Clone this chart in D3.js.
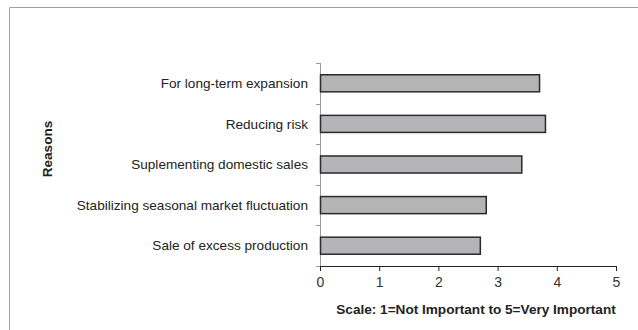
<!DOCTYPE html>
<html><head><meta charset="utf-8">
<script src="https://cdn.jsdelivr.net/npm/d3@7"></script>
<style>body{margin:0;background:#fff}svg{display:block}text{font-family:"Liberation Sans",Arial,sans-serif}</style>
</head><body><svg id="c" width="638" height="330"></svg>
<script>
const categories = ["For long-term expansion","Reducing risk","Suplementing domestic sales","Stabilizing seasonal market fluctuation","Sale of excess production"];
const values = [3.7, 3.8, 3.4, 2.8, 2.7];
const xTicks = [0,1,2,3,4,5];
const xTitle = "Scale: 1=Not Important to 5=Very Important";
const yTitle = "Reasons";

const svg = d3.select("#c");
// frame
svg.append("path").attr("d","M9.5,330 V7.5 H638").attr("fill","none").attr("stroke","#a0a0a0").attr("stroke-width",1);

const x = d3.scaleLinear().domain([0,5]).range([320,616]);
const y = d3.scaleBand().domain(categories).range([63,266]).paddingInner(0.58).paddingOuter(0.29);
const yb = d3.scaleBand().domain(categories).range([63,266]);

// y axis
const ya = svg.append("g").attr("transform","translate(320,0)");
ya.append("line").attr("x1",0.5).attr("x2",0.5).attr("y1",63).attr("y2",266).attr("stroke","#999");
const yEdges = categories.map(c=>yb(c)).concat([266]);
ya.selectAll("line.t").data(yEdges).join("line").attr("class","t")
  .attr("x1",-4).attr("x2",0.5).attr("y1",d=>Math.round(d)+0.5).attr("y2",d=>Math.round(d)+0.5).attr("stroke","#999");
ya.selectAll("text").data(categories).join("text")
  .attr("x",-12).attr("y",d=>yb(d)+yb.bandwidth()/2).attr("dy","0.35em")
  .attr("text-anchor","end").attr("font-size",13.6).attr("fill","#222").text(d=>d);

// bars
svg.selectAll("rect.bar").data(categories).join("rect").attr("class","bar")
  .attr("x",x(0)+0.5).attr("y",d=>y(d)).attr("width",(d,i)=>x(values[i])-x(0)).attr("height",y.bandwidth())
  .attr("fill","#b4b4b7").attr("stroke","#2a2a2a").attr("stroke-width",1.5);

// x axis
const xa = svg.append("g").attr("transform","translate(0,266)")
  .call(d3.axisBottom(x).tickValues(xTicks).tickFormat(d3.format("d")).tickSize(5).tickSizeOuter(0));
xa.select(".domain").attr("stroke","#222");
xa.selectAll(".tick line").attr("stroke","#222");
xa.selectAll(".tick text").attr("font-size",14).attr("fill","#333").attr("font-family","Liberation Sans, Arial, sans-serif").attr("dy","0.95em");

svg.append("text").attr("x",476).attr("y",314).attr("text-anchor","middle")
  .attr("font-size",13.6).attr("font-weight","bold").attr("fill","#222").text(xTitle);
svg.append("text").attr("transform","translate(52,149) rotate(-90)").attr("text-anchor","middle")
  .attr("font-size",13.6).attr("font-weight","bold").attr("fill","#222").text(yTitle);
</script></body></html>
